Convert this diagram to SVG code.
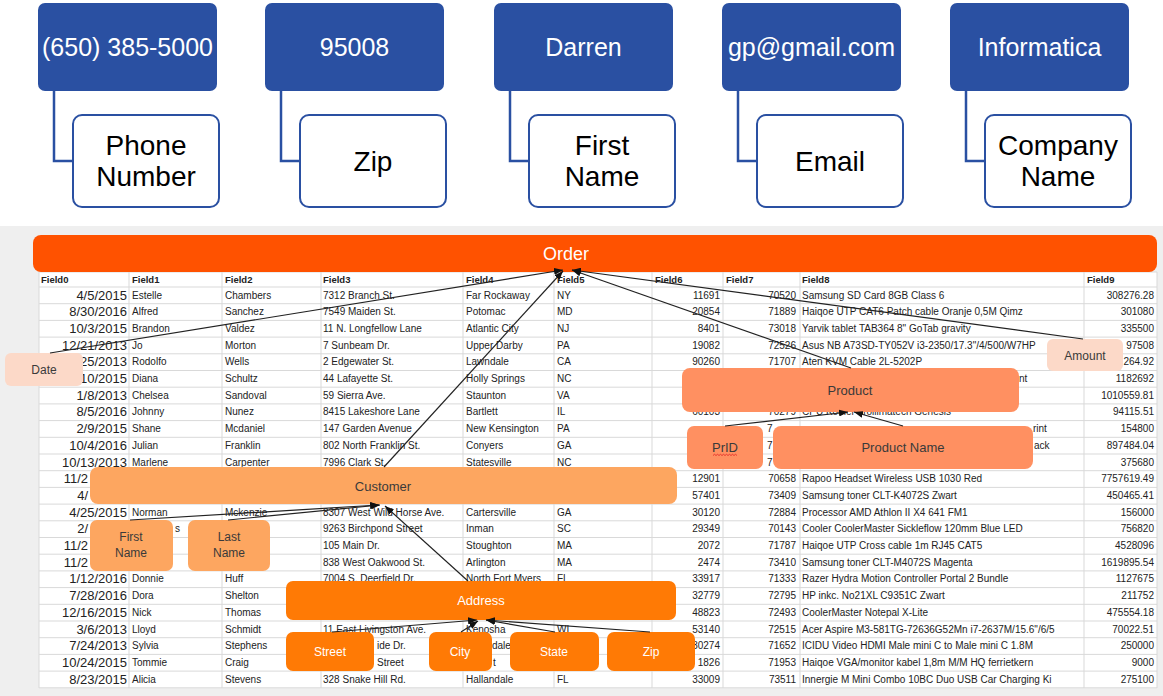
<svg xmlns="http://www.w3.org/2000/svg" width="1163" height="696" viewBox="0 0 1163 696">
<style>
.blue{fill:#2A50A2}
.wbox{fill:#fff;stroke:#2A50A2;stroke-width:2}
.bl{fill:none;stroke:#2A50A2;stroke-width:2.5}
.bt{font-family:'Liberation Sans',Arial,sans-serif;font-size:25px;fill:#fff;text-anchor:middle}
.wt{font-family:'Liberation Sans',Arial,sans-serif;font-size:28px;fill:#000;text-anchor:middle}
.c{font-family:'Liberation Sans',Arial,sans-serif;font-size:10px;fill:#222}
.r{text-anchor:end}
.d{font-size:13px}
.h{font-weight:bold;font-size:9.5px}
.grid{stroke:#D9D9D9;stroke-width:1;fill:none}
.lbl{font-family:'Liberation Sans',Arial,sans-serif;font-size:13px;text-anchor:middle}
.dk{fill:#3a3a3a}
.wh{fill:#fff}
.o1{fill:#FF5200}
.o2{fill:#FDA660}
.o3{fill:#FF9061}
.o4{fill:#FCD9C8}
.o5{fill:#FF7A05}
.cn{fill:none;stroke:#222;stroke-width:1.2}
</style>
<defs>
<marker id="ah" markerUnits="userSpaceOnUse" markerWidth="9" markerHeight="7" refX="9" refY="3.5" orient="auto">
<path d="M0,0 L9,3.5 L0,7 z" fill="#111"/>
</marker>
</defs>
<rect x="0" y="0" width="1163" height="696" fill="#fff"/>

<g id="top-connectors">
<path class="bl" d="M54 91 V161 H73"/>
<path class="bl" d="M281 91 V161 H300"/>
<path class="bl" d="M510 91 V161 H529"/>
<path class="bl" d="M738 91 V161 H757"/>
<path class="bl" d="M966 91 V161 H985"/>
</g>
<g id="phone-value"><rect class="blue" x="38" y="3" width="179" height="88" rx="7"/><text class="bt" x="127.5" y="56">(650) 385-5000</text></g>
<g id="phone-label"><rect class="wbox" x="73" y="115" width="146" height="92" rx="9"/><text class="wt" x="146" y="155">Phone</text><text class="wt" x="146" y="186">Number</text></g>
<g id="zip-value"><rect class="blue" x="265" y="3" width="179" height="88" rx="7"/><text class="bt" x="354.5" y="56">95008</text></g>
<g id="zip-label"><rect class="wbox" x="300" y="115" width="146" height="92" rx="9"/><text class="wt" x="373" y="171">Zip</text></g>
<g id="first-value"><rect class="blue" x="494" y="3" width="179" height="88" rx="7"/><text class="bt" x="583.5" y="56">Darren</text></g>
<g id="first-label"><rect class="wbox" x="529" y="115" width="146" height="92" rx="9"/><text class="wt" x="602" y="155">First</text><text class="wt" x="602" y="186">Name</text></g>
<g id="email-value"><rect class="blue" x="722" y="3" width="179" height="88" rx="7"/><text class="bt" x="811.5" y="56">gp@gmail.com</text></g>
<g id="email-label"><rect class="wbox" x="757" y="115" width="146" height="92" rx="9"/><text class="wt" x="830" y="171">Email</text></g>
<g id="company-value"><rect class="blue" x="950" y="3" width="179" height="88" rx="7"/><text class="bt" x="1039.5" y="56">Informatica</text></g>
<g id="company-label"><rect class="wbox" x="985" y="115" width="146" height="92" rx="9"/><text class="wt" x="1058" y="155">Company</text><text class="wt" x="1058" y="186">Name</text></g>

<g id="sheet">
<rect x="0" y="226" width="1163" height="470" fill="#EFEFEF"/>
<rect x="39" y="272" width="1118" height="416" fill="#fff"/>
<path class="grid" d="M39 272H1157M39 287H1157M39 303.7H1157M39 320.4H1157M39 337.1H1157M39 353.8H1157M39 370.5H1157M39 387.2H1157M39 403.9H1157M39 420.6H1157M39 437.3H1157M39 454H1157M39 470.7H1157M39 487.4H1157M39 504.1H1157M39 520.8H1157M39 537.5H1157M39 554.2H1157M39 570.9H1157M39 587.6H1157M39 604.3H1157M39 621H1157M39 637.7H1157M39 654.4H1157M39 671.1H1157M39 687.8H1157"/>
<path class="grid" d="M39 272V688M129 272V688M222 272V688M321 272V688M463 272V688M554 272V688M652 272V688M723 272V688M800 272V688M1084 272V688M1157 272V688"/>
<g class="c h">
<text x="41" y="282.5">Field0</text><text x="132" y="282.5">Field1</text><text x="225" y="282.5">Field2</text><text x="323" y="282.5">Field3</text><text x="466" y="282.5">Field4</text><text x="557" y="282.5">Field5</text><text x="655" y="282.5">Field6</text><text x="726" y="282.5">Field7</text><text x="802" y="282.5">Field8</text><text x="1087" y="282.5">Field9</text>
</g>
<g class="c">
<g transform="translate(0,295)"><text class="d r" x="127" y="4.5">4/5/2015</text><text x="132" y="3.5">Estelle</text><text x="225" y="3.5">Chambers</text><text x="323" y="3.5">7312 Branch St.</text><text x="466" y="3.5">Far Rockaway</text><text x="557" y="3.5">NY</text><text class="r" x="720" y="3.5">11691</text><text class="r" x="796" y="3.5">70520</text><text x="802" y="3.5">Samsung SD Card 8GB Class 6</text><text class="r" x="1154" y="3.5">308276.28</text></g>
<g transform="translate(0,311.7)"><text class="d r" x="127" y="4.5">8/30/2016</text><text x="132" y="3.5">Alfred</text><text x="225" y="3.5">Sanchez</text><text x="323" y="3.5">7549 Maiden St.</text><text x="466" y="3.5">Potomac</text><text x="557" y="3.5">MD</text><text class="r" x="720" y="3.5">20854</text><text class="r" x="796" y="3.5">71889</text><text x="802" y="3.5">Haiqoe UTP CAT6 Patch cable Oranje 0,5M Qimz</text><text class="r" x="1154" y="3.5">301080</text></g>
<g transform="translate(0,328.4)"><text class="d r" x="127" y="4.5">10/3/2015</text><text x="132" y="3.5">Brandon</text><text x="225" y="3.5">Valdez</text><text x="323" y="3.5">11 N. Longfellow Lane</text><text x="466" y="3.5">Atlantic City</text><text x="557" y="3.5">NJ</text><text class="r" x="720" y="3.5">8401</text><text class="r" x="796" y="3.5">73018</text><text x="802" y="3.5">Yarvik tablet TAB364 8" GoTab gravity</text><text class="r" x="1154" y="3.5">335500</text></g>
<g transform="translate(0,345.1)"><text class="d r" x="127" y="4.5">12/21/2013</text><text x="132" y="3.5">Jo</text><text x="225" y="3.5">Morton</text><text x="323" y="3.5">7 Sunbeam Dr.</text><text x="466" y="3.5">Upper Darby</text><text x="557" y="3.5">PA</text><text class="r" x="720" y="3.5">19082</text><text class="r" x="796" y="3.5">72526</text><text x="802" y="3.5">Asus NB A73SD-TY052V i3-2350/17.3"/4/500/W7HP</text><text class="r" x="1154" y="3.5">97508</text></g>
<g transform="translate(0,361.8)"><text class="d r" x="127" y="4.5">25/2013</text><text x="132" y="3.5">Rodolfo</text><text x="225" y="3.5">Wells</text><text x="323" y="3.5">2 Edgewater St.</text><text x="466" y="3.5">Lawndale</text><text x="557" y="3.5">CA</text><text class="r" x="720" y="3.5">90260</text><text class="r" x="796" y="3.5">71707</text><text x="802" y="3.5">Aten KVM Cable 2L-5202P</text><text class="r" x="1154" y="3.5">264.92</text></g>
<g transform="translate(0,378.5)"><text class="d r" x="127" y="4.5">10/2015</text><text x="132" y="3.5">Diana</text><text x="225" y="3.5">Schultz</text><text x="323" y="3.5">44 Lafayette St.</text><text x="466" y="3.5">Holly Springs</text><text x="557" y="3.5">NC</text><text x="1019" y="3.5">nt</text><text class="r" x="1154" y="3.5">1182692</text></g>
<g transform="translate(0,395.2)"><text class="d r" x="127" y="4.5">1/8/2013</text><text x="132" y="3.5">Chelsea</text><text x="225" y="3.5">Sandoval</text><text x="323" y="3.5">59 Sierra Ave.</text><text x="466" y="3.5">Staunton</text><text x="557" y="3.5">VA</text><text class="r" x="1154" y="3.5">1010559.81</text></g>
<g transform="translate(0,411.9)"><text class="d r" x="127" y="4.5">8/5/2016</text><text x="132" y="3.5">Johnny</text><text x="225" y="3.5">Nunez</text><text x="323" y="3.5">8415 Lakeshore Lane</text><text x="466" y="3.5">Bartlett</text><text x="557" y="3.5">IL</text><text class="r" x="720" y="3.5">60103</text><text class="r" x="796" y="3.5">70279</text><text x="802" y="3.5">CPU Koeler Trollimatech Genesis</text><text class="r" x="1154" y="3.5">94115.51</text></g>
<g transform="translate(0,428.6)"><text class="d r" x="127" y="4.5">2/9/2015</text><text x="132" y="3.5">Shane</text><text x="225" y="3.5">Mcdaniel</text><text x="323" y="3.5">147 Garden Avenue</text><text x="466" y="3.5">New Kensington</text><text x="557" y="3.5">PA</text><text x="767" y="3.5">7</text><text x="1033" y="3.5">rint</text><text class="r" x="1154" y="3.5">154800</text></g>
<g transform="translate(0,445.3)"><text class="d r" x="127" y="4.5">10/4/2016</text><text x="132" y="3.5">Julian</text><text x="225" y="3.5">Franklin</text><text x="323" y="3.5">802 North Franklin St.</text><text x="466" y="3.5">Conyers</text><text x="557" y="3.5">GA</text><text x="767" y="3.5">7</text><text x="1034" y="3.5">ack</text><text class="r" x="1154" y="3.5">897484.04</text></g>
<g transform="translate(0,462)"><text class="d r" x="127" y="4.5">10/13/2013</text><text x="132" y="3.5">Marlene</text><text x="225" y="3.5">Carpenter</text><text x="323" y="3.5">7996 Clark St.</text><text x="466" y="3.5">Statesville</text><text x="557" y="3.5">NC</text><text x="767" y="3.5">7</text><text class="r" x="1154" y="3.5">375680</text></g>
<g transform="translate(0,478.7)"><text class="d r" x="88" y="4.5">11/2</text><text class="r" x="720" y="3.5">12901</text><text class="r" x="796" y="3.5">70658</text><text x="802" y="3.5">Rapoo Headset Wireless USB 1030 Red</text><text class="r" x="1154" y="3.5">7757619.49</text></g>
<g transform="translate(0,495.4)"><text class="d r" x="88" y="4.5">4/</text><text class="r" x="720" y="3.5">57401</text><text class="r" x="796" y="3.5">73409</text><text x="802" y="3.5">Samsung toner CLT-K4072S Zwart</text><text class="r" x="1154" y="3.5">450465.41</text></g>
<g transform="translate(0,512.1)"><text class="d r" x="127" y="4.5">4/25/2015</text><text x="132" y="3.5">Norman</text><text x="225" y="3.5">Mckenzie</text><text x="323" y="3.5">8307 West Wild Horse Ave.</text><text x="466" y="3.5">Cartersville</text><text x="557" y="3.5">GA</text><text class="r" x="720" y="3.5">30120</text><text class="r" x="796" y="3.5">72884</text><text x="802" y="3.5">Processor AMD Athlon II X4 641 FM1</text><text class="r" x="1154" y="3.5">156000</text></g>
<g transform="translate(0,528.8)"><text class="d r" x="88" y="4.5">2/</text><text x="175" y="3.5">s</text><text x="323" y="3.5">9263 Birchpond Street</text><text x="466" y="3.5">Inman</text><text x="557" y="3.5">SC</text><text class="r" x="720" y="3.5">29349</text><text class="r" x="796" y="3.5">70143</text><text x="802" y="3.5">Cooler CoolerMaster Sickleflow 120mm Blue LED</text><text class="r" x="1154" y="3.5">756820</text></g>
<g transform="translate(0,545.5)"><text class="d r" x="88" y="4.5">11/2</text><text x="323" y="3.5">105 Main Dr.</text><text x="466" y="3.5">Stoughton</text><text x="557" y="3.5">MA</text><text class="r" x="720" y="3.5">2072</text><text class="r" x="796" y="3.5">71787</text><text x="802" y="3.5">Haiqoe UTP Cross cable 1m RJ45 CAT5</text><text class="r" x="1154" y="3.5">4528096</text></g>
<g transform="translate(0,562.2)"><text class="d r" x="88" y="4.5">11/2</text><text x="323" y="3.5">838 West Oakwood St.</text><text x="466" y="3.5">Arlington</text><text x="557" y="3.5">MA</text><text class="r" x="720" y="3.5">2474</text><text class="r" x="796" y="3.5">73410</text><text x="802" y="3.5">Samsung toner CLT-M4072S Magenta</text><text class="r" x="1154" y="3.5">1619895.54</text></g>
<g transform="translate(0,578.9)"><text class="d r" x="127" y="4.5">1/12/2016</text><text x="132" y="3.5">Donnie</text><text x="225" y="3.5">Huff</text><text x="323" y="3.5">7004 S. Deerfield Dr.</text><text x="466" y="3.5">North Fort Myers</text><text x="557" y="3.5">FL</text><text class="r" x="720" y="3.5">33917</text><text class="r" x="796" y="3.5">71333</text><text x="802" y="3.5">Razer Hydra Motion Controller Portal 2 Bundle</text><text class="r" x="1154" y="3.5">1127675</text></g>
<g transform="translate(0,595.6)"><text class="d r" x="127" y="4.5">7/28/2016</text><text x="132" y="3.5">Dora</text><text x="225" y="3.5">Shelton</text><text class="r" x="720" y="3.5">32779</text><text class="r" x="796" y="3.5">72795</text><text x="802" y="3.5">HP inkc. No21XL C9351C Zwart</text><text class="r" x="1154" y="3.5">211752</text></g>
<g transform="translate(0,612.3)"><text class="d r" x="127" y="4.5">12/16/2015</text><text x="132" y="3.5">Nick</text><text x="225" y="3.5">Thomas</text><text class="r" x="720" y="3.5">48823</text><text class="r" x="796" y="3.5">72493</text><text x="802" y="3.5">CoolerMaster Notepal X-Lite</text><text class="r" x="1154" y="3.5">475554.18</text></g>
<g transform="translate(0,629)"><text class="d r" x="127" y="4.5">3/6/2013</text><text x="132" y="3.5">Lloyd</text><text x="225" y="3.5">Schmidt</text><text x="323" y="3.5">11 East Livingston Ave.</text><text x="466" y="3.5">Kenosha</text><text x="557" y="3.5">WI</text><text class="r" x="720" y="3.5">53140</text><text class="r" x="796" y="3.5">72515</text><text x="802" y="3.5">Acer Aspire M3-581TG-72636G52Mn i7-2637M/15.6"/6/5</text><text class="r" x="1154" y="3.5">70022.51</text></g>
<g transform="translate(0,645.7)"><text class="d r" x="127" y="4.5">7/24/2013</text><text x="132" y="3.5">Sylvia</text><text x="225" y="3.5">Stephens</text><text x="377" y="3.5">ide Dr.</text><text x="492" y="3.5">dale</text><text class="r" x="720" y="3.5">30274</text><text class="r" x="796" y="3.5">71652</text><text x="802" y="3.5">ICIDU Video HDMI Male mini C to Male mini C 1.8M</text><text class="r" x="1154" y="3.5">250000</text></g>
<g transform="translate(0,662.4)"><text class="d r" x="127" y="4.5">10/24/2015</text><text x="132" y="3.5">Tommie</text><text x="225" y="3.5">Craig</text><text x="377" y="3.5">Street</text><text x="493" y="3.5">t</text><text class="r" x="720" y="3.5">1826</text><text class="r" x="796" y="3.5">71953</text><text x="802" y="3.5">Haiqoe VGA/monitor kabel 1,8m M/M HQ ferrietkern</text><text class="r" x="1154" y="3.5">9000</text></g>
<g transform="translate(0,679.1)"><text class="d r" x="127" y="4.5">8/23/2015</text><text x="132" y="3.5">Alicia</text><text x="225" y="3.5">Stevens</text><text x="323" y="3.5">328 Snake Hill Rd.</text><text x="466" y="3.5">Hallandale</text><text x="557" y="3.5">FL</text><text class="r" x="720" y="3.5">33009</text><text class="r" x="796" y="3.5">73511</text><text x="802" y="3.5">Innergie M Mini Combo 10BC Duo USB Car Charging Ki</text><text class="r" x="1154" y="3.5">275100</text></g>
</g>
</g>

<g id="order"><rect class="o1" x="33" y="235" width="1124" height="37" rx="8"/><text class="lbl wh" x="566" y="260" style="font-size:18px">Order</text></g>
<g id="date"><rect class="o4" x="5" y="353" width="78" height="33" rx="6"/><text class="lbl dk" x="44" y="374" style="font-size:12px">Date</text></g>
<g id="amount"><rect class="o4" x="1047" y="339" width="76" height="32" rx="6"/><text class="lbl dk" x="1085" y="360" style="font-size:12px">Amount</text></g>
<g id="product"><rect class="o3" x="682" y="368" width="337" height="44" rx="8"/><text class="lbl dk" x="850" y="395">Product</text></g>
<g id="prid"><rect class="o3" x="687" y="426" width="76" height="43" rx="7"/><text class="lbl dk" x="725" y="452">PrID</text><path d="M713 455.5 l1.5 -1.2 l1.5 1.2 l1.5 -1.2 l1.5 1.2 l1.5 -1.2 l1.5 1.2 l1.5 -1.2 l1.5 1.2 l1.5 -1.2 l1.5 1.2 l1.5 -1.2 l1.5 1.2 l1.5 -1.2 l1.5 1.2 l1.5 -1.2 l1.5 1.2" fill="none" stroke="#E02020" stroke-width="0.8"/></g>
<g id="product-name"><rect class="o3" x="773" y="426" width="260" height="43" rx="8"/><text class="lbl dk" x="903" y="452">Product Name</text></g>
<g id="customer"><rect class="o2" x="90" y="467" width="587" height="37" rx="8"/><text class="lbl dk" x="383" y="491">Customer</text></g>
<g id="first-name"><rect class="o2" x="90" y="520" width="83" height="51" rx="7"/><text class="lbl dk" x="131" y="541" style="font-size:12px">First</text><text class="lbl dk" x="131" y="557" style="font-size:12px">Name</text></g>
<g id="last-name"><rect class="o2" x="188" y="520" width="82" height="51" rx="7"/><text class="lbl dk" x="229" y="541" style="font-size:12px">Last</text><text class="lbl dk" x="229" y="557" style="font-size:12px">Name</text></g>
<g id="address"><rect class="o5" x="286" y="581" width="390" height="39" rx="7"/><text class="lbl wh" x="481" y="605">Address</text></g>
<g id="street"><rect class="o5" x="286" y="632" width="88" height="39" rx="7"/><text class="lbl wh" x="330" y="656" style="font-size:12px">Street</text></g>
<g id="city"><rect class="o5" x="429" y="632" width="63" height="39" rx="7"/><text class="lbl wh" x="460" y="656" style="font-size:12px">City</text></g>
<g id="state"><rect class="o5" x="510" y="632" width="89" height="39" rx="7"/><text class="lbl wh" x="554" y="656" style="font-size:12px">State</text></g>
<g id="zip"><rect class="o5" x="607" y="632" width="88" height="39" rx="7"/><text class="lbl wh" x="651" y="656" style="font-size:12px">Zip</text></g>

<g id="connectors">
<path class="cn" marker-end="url(#ah)" d="M50 353 L563 270"/>
<path class="cn" marker-end="url(#ah)" d="M384 467 L563 271"/>
<path class="cn" marker-end="url(#ah)" d="M851 368 L572 270"/>
<path class="cn" marker-end="url(#ah)" d="M1083 339 L572 270"/>
<path class="cn" marker-end="url(#ah)" d="M130 520 L379 505"/>
<path class="cn" marker-end="url(#ah)" d="M228 520 L380 505"/>
<path class="cn" marker-end="url(#ah)" d="M468 581 L385 506"/>
<path class="cn" marker-end="url(#ah)" d="M725 426 L848 412"/>
<path class="cn" marker-end="url(#ah)" d="M903 426 L854 412"/>
<path class="cn" marker-end="url(#ah)" d="M332 632 L477 620"/>
<path class="cn" marker-end="url(#ah)" d="M461 632 L478 621"/>
<path class="cn" marker-end="url(#ah)" d="M555 632 L486 620"/>
<path class="cn" marker-end="url(#ah)" d="M650 632 L486 620"/>
</g>
</svg>
